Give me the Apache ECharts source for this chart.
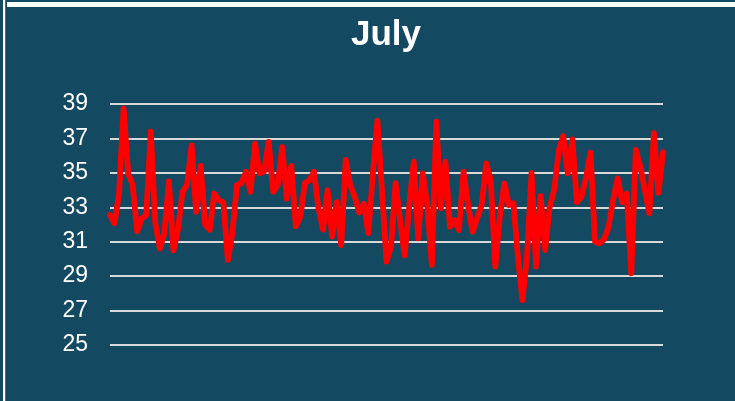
<!DOCTYPE html>
<html>
<head>
<meta charset="utf-8">
<script src="https://cdn.jsdelivr.net/npm/echarts@6/dist/echarts.min.js"></script>
<style>
html,body{margin:0;padding:0;background:#134a62;}
#c{width:735px;height:401px;}
</style>
</head>
<body>
<div id="c"></div>
<script>
var titleText = 'July';
var yTicks = [25, 27, 29, 31, 33, 35, 37, 39];
var temps = [
32.55, 32.07, 33.8, 38.75, 34.97, 34.3, 31.6, 32.36, 32.55, 37.4,
32.07, 30.6, 31.5, 34.5, 30.5, 31.7, 33.9, 34.3, 36.6, 32.74,
35.4, 31.97, 31.7, 33.8, 33.4, 33.3, 29.94, 31.5, 34.3, 34.4,
35.07, 33.9, 36.7, 34.97, 35.07, 36.8, 33.9, 34.3, 36.5, 33.5,
35.4, 31.9, 32.45, 34.4, 34.58, 35.07, 32.94, 31.7, 34.0, 31.3,
33.3, 30.8, 35.75, 34.3, 33.6, 32.7, 33.2, 31.5, 34.97, 38.03,
34.0, 29.84, 30.7, 34.4, 32.26, 30.2, 33.03, 35.65, 31.2, 34.97,
33.13, 29.65, 37.97, 32.94, 35.65, 31.87, 32.26, 31.68, 35.07, 33.13,
31.58, 32.36, 33.13, 35.55, 34.58, 29.55, 32.45, 34.39, 33.13, 33.23,
30.13, 27.6, 30.13, 35.0, 29.55, 33.65, 30.52, 33.03, 34.0, 36.3,
37.14, 34.97, 36.95, 33.3, 33.6, 34.68, 36.17, 31.0, 30.9, 31.14,
31.87, 33.42, 34.68, 33.3, 33.8, 29.17, 36.33, 35.36, 34.0, 32.65,
37.3, 33.84, 36.2
];
var categories = temps.map(function (_, i) { return String(i + 1); });

var chart = echarts.init(document.getElementById('c'), null, {renderer: 'canvas'});
chart.setOption({
  backgroundColor: '#134a62',
  animation: false,
  graphic: [
    {type: 'rect', shape: {x: 7, y: 2, width: 728, height: 5}, style: {fill: '#ffffff'}, z: 10},
    {type: 'rect', shape: {x: 3, y: 0, width: 2.2, height: 401}, style: {fill: '#ffffff'}, z: 10}
  ],
  title: {
    text: titleText,
    left: 346,
    top: 13,
    textStyle: {color: '#ffffff', fontFamily: 'Liberation Sans', fontWeight: 'bold', fontSize: 35}
  },
  grid: {left: 110, right: 72, top: 104, bottom: 56, containLabel: false},
  xAxis: {
    type: 'category',
    data: categories,
    boundaryGap: false,
    axisLine: {show: false},
    axisTick: {show: false},
    axisLabel: {show: false},
    splitLine: {show: false}
  },
  yAxis: {
    type: 'value',
    min: yTicks[0],
    max: yTicks[yTicks.length - 1],
    interval: 2,
    axisLine: {show: false},
    axisTick: {show: false},
    axisLabel: {color: '#ffffff', fontFamily: 'Liberation Sans', fontSize: 23, margin: 22, padding: [6, 0, 0, 0]},
    splitLine: {lineStyle: {color: '#d9d9d9', width: 2}}
  },
  series: [{
    type: 'line',
    data: temps,
    symbol: 'none',
    lineStyle: {color: '#ff0000', width: 5.8, join: 'round', cap: 'round'}
  }]
});
</script>
</body>
</html>
